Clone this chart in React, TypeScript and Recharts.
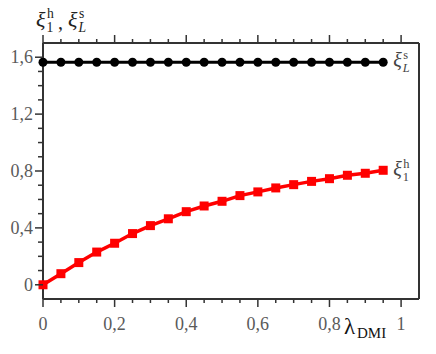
import React from 'react';
import { LineChart, Line, XAxis, YAxis } from 'recharts';

const lambdaDMI = [0, 0.05, 0.1, 0.15, 0.2, 0.25, 0.3, 0.35, 0.4, 0.45, 0.5, 0.55, 0.6, 0.65, 0.7, 0.75, 0.8, 0.85, 0.9, 0.95];
const xiLs = [1.565, 1.565, 1.565, 1.565, 1.565, 1.565, 1.565, 1.565, 1.565, 1.565, 1.565, 1.565, 1.565, 1.565, 1.565, 1.565, 1.565, 1.565, 1.565, 1.565];
const xi1h = [0, 0.078, 0.156, 0.23, 0.292, 0.36, 0.416, 0.464, 0.514, 0.554, 0.587, 0.627, 0.653, 0.681, 0.704, 0.727, 0.746, 0.77, 0.784, 0.805];

const xTicks = [0, 0.05, 0.1, 0.15, 0.2, 0.25, 0.3, 0.35, 0.4, 0.45, 0.5, 0.55, 0.6, 0.65, 0.7, 0.75, 0.8, 0.85, 0.9, 0.95, 1];
const xMajor = [0, 0.2, 0.4, 0.6, 0.8, 1];
const xTickLabels = ['0', '0,2', '0,4', '0,6', '0,8', '1'];
const yTicks = [0, 0.1, 0.2, 0.3, 0.4, 0.5, 0.6, 0.7, 0.8, 0.9, 1.0, 1.1, 1.2, 1.3, 1.4, 1.5, 1.6];
const yMajor = [0, 0.4, 0.8, 1.2, 1.6];
const yTickLabels = ['0', '0,4', '0,8', '1,2', '1,6'];

const data = lambdaDMI.map((l, i) => ({ l, s: xiLs[i], h: xi1h[i] }));

const FONT = "'Liberation Serif', 'DejaVu Serif', serif";
const AXIS = '#333';
const TICKTXT = '#5a5a5a';

const majorIndex = (list: number[], v: number) => list.findIndex((m) => Math.abs(m - v) < 1e-6);

const txt = (size: number, fill: string, italic = false): React.CSSProperties => ({
  fontFamily: FONT,
  fontSize: size,
  fill,
  fontStyle: italic ? 'italic' : 'normal',
});

const BottomTick = (props: any) => {
  const { x, y, payload } = props;
  const mi = majorIndex(xMajor, payload.value);
  const major = mi >= 0;
  return (
    <g>
      <line x1={x} x2={x} y1={y} y2={y + (major ? 8 : 4)} stroke={AXIS} strokeWidth={1.5} />
      {major && (
        <text x={x} y={y + 31} textAnchor="middle" style={txt(18, TICKTXT)}>
          {xTickLabels[mi]}
        </text>
      )}
    </g>
  );
};

const TopTick = (props: any) => {
  const { x, y, payload } = props;
  const major = majorIndex(xMajor, payload.value) >= 0;
  return <line x1={x} x2={x} y1={y} y2={y - (major ? 8 : 4)} stroke={AXIS} strokeWidth={1.5} />;
};

const LeftTick = (props: any) => {
  const { x, y, payload } = props;
  const mi = majorIndex(yMajor, payload.value);
  const major = mi >= 0;
  return (
    <g>
      <line x1={x} x2={x - (major ? 8 : 5)} y1={y} y2={y} stroke={AXIS} strokeWidth={1.5} />
      {major && (
        <text x={x - 10} y={y + 6} textAnchor="end" style={txt(18, TICKTXT)}>
          {yTickLabels[mi]}
        </text>
      )}
    </g>
  );
};

const RightTick = (props: any) => {
  const { x, y, payload } = props;
  const major = majorIndex(yMajor, payload.value) >= 0;
  return <line x1={x} x2={x + (major ? 8 : 4)} y1={y} y2={y} stroke={AXIS} strokeWidth={1.5} />;
};

const Xi = ({ x, y, sup, sub, size, fill }: { x: number; y: number; sup: string; sub: string; size: number; fill: string }) => (
  <g>
    <text x={x} y={y} style={txt(size, fill, true)}>ξ</text>
    <text x={x + size * 0.5} y={y - size * 0.42} style={txt(size * 0.62, fill)}>{sup}</text>
    <text x={x + size * 0.48} y={y + size * 0.22} style={txt(size * 0.62, fill, sub === 'L')}>{sub}</text>
  </g>
);

const last = lambdaDMI.length - 1;

const BlackDot = (props: any) => {
  const { cx, cy, index } = props;
  return (
    <g key={`b${index}`}>
      <circle cx={cx} cy={cy} r={4.5} fill="#000" />
      {index === last && <Xi x={cx + 10} y={cy + 5} sup="s" sub="L" size={20} fill="#444" />}
    </g>
  );
};

const RedDot = (props: any) => {
  const { cx, cy, index } = props;
  return (
    <g key={`r${index}`}>
      <rect x={cx - 4.5} y={cy - 4.5} width={9} height={9} fill="#ff0000" />
      {index === last && <Xi x={cx + 10} y={cy + 6} sup="h" sub="1" size={20} fill="#444" />}
    </g>
  );
};

const YTitle = (props: any) => {
  const vb = props.viewBox || { x: 23, y: 43, width: 20 };
  const x0 = vb.x + vb.width - 7;
  const y0 = vb.y - 16;
  return (
    <g>
      <Xi x={x0} y={y0} sup="h" sub="1" size={22} fill="#222" />
      <text x={x0 + 22} y={y0 + 2} style={txt(20, '#222')}>,</text>
      <Xi x={x0 + 32} y={y0} sup="s" sub="L" size={22} fill="#222" />
    </g>
  );
};

const XTitle = (props: any) => {
  const vb = props.viewBox || { x: 43, y: 299, width: 376 };
  const x0 = vb.x + vb.width - 75;
  const y0 = vb.y + 35;
  return (
    <g>
      <text x={x0} y={y0} style={txt(23, '#111')}>λ</text>
      <text x={x0 + 13} y={y0 + 4} style={txt(15, '#111')}>DMI</text>
    </g>
  );
};

export default function App() {
  return (
    <div style={{ position: 'absolute', left: 0, top: 0, width: 436, height: 354, background: '#fff' }}>
      <LineChart width={436} height={354} data={data} margin={{ top: 23, right: 7, bottom: 35, left: 23 }}>
        <XAxis
          dataKey="l"
          type="number"
          domain={[0, 1.05]}
          ticks={xTicks}
          interval={0}
          height={20}
          tickSize={0}
          tickMargin={0}
          tickLine={false}
          tick={<BottomTick />}
          axisLine={{ stroke: AXIS, strokeWidth: 2 }}
          label={{ content: <XTitle /> }}
        />
        <XAxis
          xAxisId="top"
          orientation="top"
          dataKey="l"
          type="number"
          domain={[0, 1.05]}
          ticks={xTicks}
          interval={0}
          height={20}
          tickSize={0}
          tickMargin={0}
          tickLine={false}
          tick={<TopTick />}
          axisLine={{ stroke: AXIS, strokeWidth: 2 }}
        />
        <YAxis
          type="number"
          domain={[-0.1, 1.7]}
          ticks={yTicks}
          interval={0}
          width={20}
          tickSize={0}
          tickMargin={0}
          tickLine={false}
          tick={<LeftTick />}
          axisLine={{ stroke: AXIS, strokeWidth: 2 }}
          label={{ content: <YTitle /> }}
        />
        <YAxis
          yAxisId="right"
          orientation="right"
          type="number"
          domain={[-0.1, 1.7]}
          ticks={yTicks}
          interval={0}
          width={10}
          tickSize={0}
          tickMargin={0}
          tickLine={false}
          tick={<RightTick />}
          axisLine={{ stroke: AXIS, strokeWidth: 2 }}
        />
        <Line dataKey="s" stroke="#000" strokeWidth={3} dot={BlackDot} isAnimationActive={false} />
        <Line dataKey="h" stroke="#ff0000" strokeWidth={3.5} dot={RedDot} isAnimationActive={false} />
      </LineChart>
    </div>
  );
}
